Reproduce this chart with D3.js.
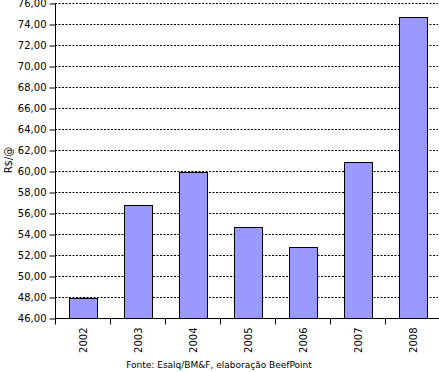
<!DOCTYPE html>
<html>
<head>
<meta charset="utf-8">
<script src="https://cdn.jsdelivr.net/npm/d3@7"></script>
<style>
  body { margin: 0; background: #fff; }
  svg { display: block; font-family: "DejaVu Sans", Verdana, sans-serif; }
</style>
</head>
<body>
<div id="chart"></div>
<script>
var years = ["2002", "2003", "2004", "2005", "2006", "2007", "2008"];
var prices = [47.9, 56.8, 59.9, 54.7, 52.8, 60.9, 74.7];
var yTicks = [46, 48, 50, 52, 54, 56, 58, 60, 62, 64, 66, 68, 70, 72, 74, 76];

var width = 439, height = 372;
var margin = { top: 3, right: 0, bottom: 54, left: 55 };

var svg = d3.select("#chart").append("svg")
    .attr("width", width)
    .attr("height", height);

var x = d3.scaleBand()
    .domain(years)
    .range([margin.left, margin.left + 385])
    .paddingInner(0.5)
    .paddingOuter(0.25);

var y = d3.scaleLinear()
    .domain([46, 76])
    .range([height - margin.bottom, margin.top]);

var fmt = function(d) { return d3.format(".2f")(d).replace(".", ","); };

// gridlines
svg.append("g")
    .selectAll("line")
    .data(yTicks.slice(1))
    .enter()
    .append("line")
    .attr("x1", margin.left)
    .attr("x2", 438)
    .attr("y1", d => Math.round(y(d)) + 0.5)
    .attr("y2", d => Math.round(y(d)) + 0.5)
    .attr("stroke", "#000")
    .attr("stroke-dasharray", "2,1.5");

// bars
svg.append("g")
    .selectAll("rect")
    .data(prices)
    .enter()
    .append("rect")
    .attr("x", (d, i) => Math.round(x(years[i])) + 0.5)
    .attr("y", d => Math.round(y(d)) + 0.5)
    .attr("width", Math.round(x.bandwidth()))
    .attr("height", d => Math.round(y(46)) - Math.round(y(d)))
    .attr("fill", "#9999ff")
    .attr("stroke", "#000");

// y axis
var yAxis = svg.append("g")
    .attr("transform", "translate(" + (margin.left + 0.5) + ",0.5)")
    .call(d3.axisLeft(y).tickValues(yTicks).tickFormat(fmt).tickSize(6).tickPadding(3));
yAxis.selectAll("text").attr("font-size", 10).attr("fill", "#000").attr("font-family", "DejaVu Sans");
yAxis.selectAll("line,path").attr("stroke", "#000");
yAxis.select("path").attr("d", "M0," + Math.round(y(76)) + "V" + Math.round(y(46)));

// x axis
var xAxis = svg.append("g")
    .attr("transform", "translate(0," + (Math.round(y(46)) + 0.5) + ")");
xAxis.append("line")
    .attr("x1", margin.left)
    .attr("x2", 439)
    .attr("stroke", "#000");
xAxis.selectAll(".tk")
    .data(years)
    .enter()
    .append("line")
    .attr("class", "tk")
    .attr("x1", d => Math.round(x(d) - x.step() * 0.25) + 0.5)
    .attr("x2", d => Math.round(x(d) - x.step() * 0.25) + 0.5)
    .attr("y1", 0)
    .attr("y2", 6)
    .attr("stroke", "#000");
xAxis.selectAll(".lbl")
    .data(years)
    .enter()
    .append("text")
    .attr("class", "lbl")
    .attr("transform", d => "translate(" + (x(d) + x.bandwidth() / 2 + 4) + ",9) rotate(-90)")
    .attr("text-anchor", "end")
    .attr("font-size", 10)
    .text(d => d);

// y label
svg.append("text")
    .attr("transform", "translate(12,160) rotate(-90)")
    .attr("text-anchor", "middle")
    .attr("font-size", 10)
    .text("R$/@");

// source
svg.append("text")
    .attr("x", 219)
    .attr("y", 368)
    .attr("text-anchor", "middle")
    .attr("font-size", 9)
    .text("Fonte: Esalq/BM&F, elaboração BeefPoint");
</script>
</body>
</html>
